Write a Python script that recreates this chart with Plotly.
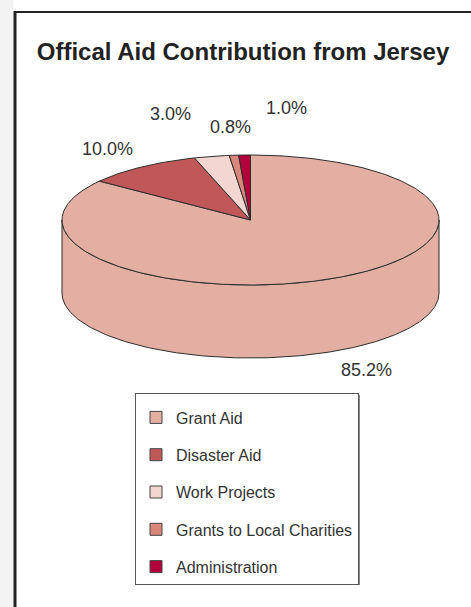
import numpy as np
import plotly.graph_objects as go

# ---- data ----
categories = ["Grant Aid", "Disaster Aid", "Work Projects",
              "Grants to Local Charities", "Administration"]
values = [85.2, 10.0, 3.0, 0.8, 1.0]
colors = ["#E3AFA2", "#C0585A", "#F3D6CF", "#D8857C", "#B1003A"]
title_text = "Offical Aid Contribution from Jersey"

# ---- geometry (pixel units on the axes) ----
W, H = 471, 607
CX, CY = 250.5, 220.0      # centre of the top face
RX, RY = 188.5, 65.0       # ellipse radii
DEPTH = 73.0               # thickness of the pie
EDGE = "#2d2d2d"
FONT = "Liberation Sans, Arial, sans-serif"
label_pos = [(366, 370), (107, 149), (170, 114), (230, 127), (286, 108)]

def pt(t, dy=0.0):
    return CX + RX * np.cos(t), CY - RY * np.sin(t) + dy

fig = go.Figure()

# side wall (front half of the cylinder, all Grant Aid)
t_front = np.linspace(np.pi, 2 * np.pi, 200)
xt, yt = pt(t_front)
xb, yb = pt(t_front[::-1], DEPTH)
fig.add_trace(go.Scatter(
    x=np.concatenate([xt, xb, xt[:1]]), y=np.concatenate([yt, yb, yt[:1]]),
    mode="lines", fill="toself", fillcolor=colors[0],
    line=dict(color=EDGE, width=1), hoverinfo="skip", showlegend=False))

# top face slices, clockwise from 12 o'clock
total = sum(values)
cum = 0.0
for name, v, c in zip(categories, values, colors):
    a0 = np.pi / 2 - 2 * np.pi * cum / total
    a1 = np.pi / 2 - 2 * np.pi * (cum + v) / total
    cum += v
    n = max(4, int(abs(a1 - a0) * 80))
    ts = np.linspace(a0, a1, n)
    xs, ys = pt(ts)
    fig.add_trace(go.Scatter(
        x=np.concatenate([[CX], xs, [CX]]), y=np.concatenate([[CY], ys, [CY]]),
        mode="lines", fill="toself", fillcolor=c,
        line=dict(color=EDGE, width=1), hoverinfo="skip", showlegend=False))

# legend entries
for i, (name, c) in enumerate(zip(categories, colors)):
    fig.add_trace(go.Scatter(
        x=[None], y=[None], mode="markers", name=name,
        legendgroup=f"g{i}",
        marker=dict(symbol="square", size=12, color=c,
                    line=dict(color="#444", width=1))))

# percentage labels
for v, (lx, ly) in zip(values, label_pos):
    fig.add_annotation(x=lx, y=ly, xref="x", yref="y", text=f"{v:.1f}%",
                       showarrow=False, xanchor="center", yanchor="middle",
                       font=dict(family=FONT, size=18, color="#333333"))

shapes = [
    dict(type="rect", xref="x", yref="y", x0=0, x1=13.5, y0=0, y1=H,
         fillcolor="#f3f3f3", line=dict(width=0), layer="below"),
    dict(type="line", xref="x", yref="y", x0=15, x1=15, y0=11, y1=H + 5,
         line=dict(color="#222222", width=3)),
    dict(type="line", xref="x", yref="y", x0=14, x1=W + 5, y0=12, y1=12,
         line=dict(color="#222222", width=2)),
    # legend drop shadow
    dict(type="rect", xref="x", yref="y", x0=137, x1=360, y0=395, y1=585,
         fillcolor="#888888", line=dict(width=0)),
]

fig.update_layout(
    width=W, height=H,
    margin=dict(l=0, r=0, t=0, b=0),
    paper_bgcolor="white", plot_bgcolor="white",
    xaxis=dict(range=[0, W], visible=False, fixedrange=True),
    yaxis=dict(range=[H, 0], visible=False, fixedrange=True),
    title=dict(text=f"<b>{title_text}</b>", x=243 / W, xanchor="center",
               y=1 - 52 / H, yanchor="middle",
               font=dict(family=FONT, size=24, color="#222222")),
    legend=dict(x=135 / W, y=1 - 393 / H, xanchor="left", yanchor="top",
                xref="paper", yref="paper",
                bgcolor="white", bordercolor="#555555", borderwidth=1,
                font=dict(family=FONT, size=16, color="#333333"),
                title=dict(text=" ", font=dict(size=5)),
                traceorder="grouped", tracegroupgap=13.5,
                itemclick=False, itemdoubleclick=False),
    shapes=shapes,
    showlegend=True,
)

fig.write_html("out.html", config={"displayModeBar": False},
               post_script="document.body.style.margin='0';")
